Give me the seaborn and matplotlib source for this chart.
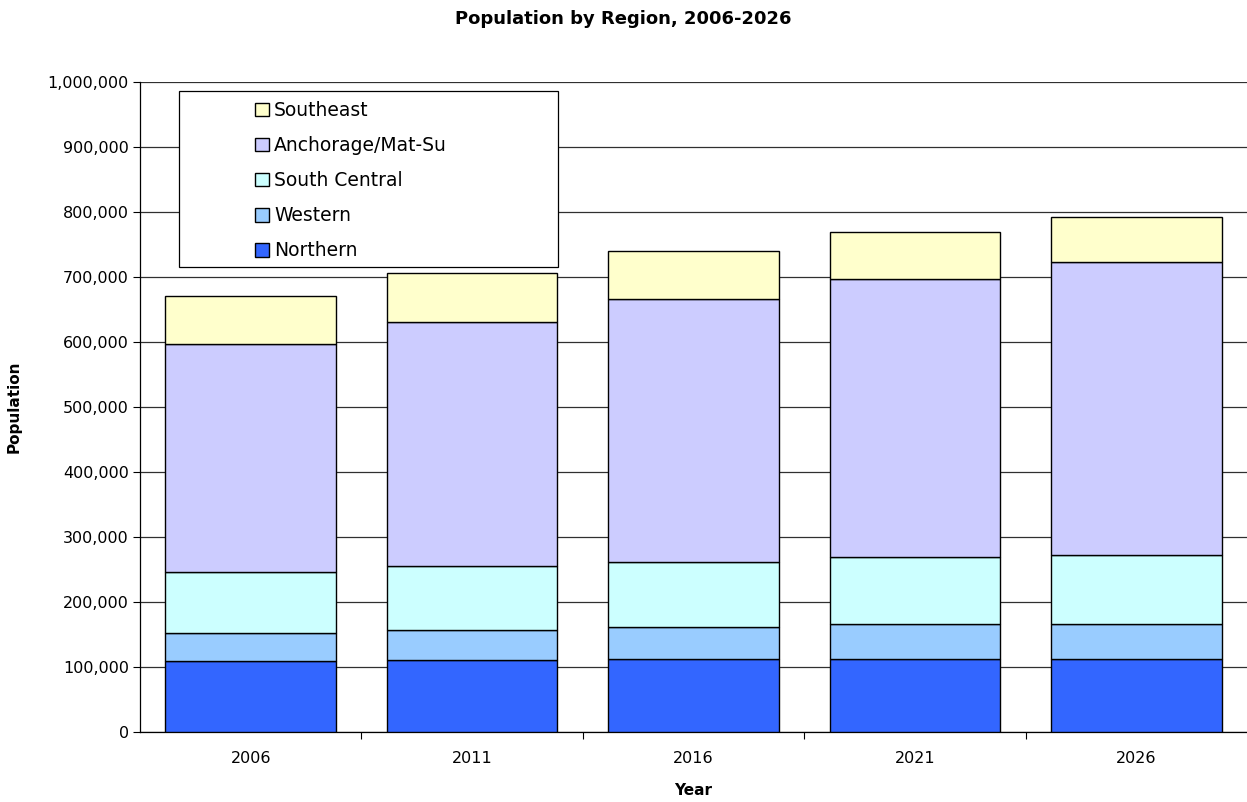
import pandas as pd
import numpy as np
import matplotlib
matplotlib.use("Agg")
import matplotlib.pyplot as plt
import matplotlib.ticker as mticker
from matplotlib.patches import Rectangle
import seaborn as sns

# data (stacked, bottom to top)
years = ["2006", "2011", "2016", "2021", "2026"]
regions = ["Northern", "Western", "South Central", "Anchorage/Mat-Su", "Southeast"]
northern = [108800, 110300, 112900, 112900, 112900]
western = [43000, 46200, 48200, 52800, 53900]
south_central = [95000, 98900, 101000, 103100, 105500]
anchorage = [349700, 375400, 403600, 428100, 450800]
southeast = [74900, 75400, 74900, 72300, 68700]

colors = {"Northern": "#3366FF", "Western": "#99CCFF", "South Central": "#CCFFFF",
          "Anchorage/Mat-Su": "#CCCCFF", "Southeast": "#FFFFCC"}

values = [northern, western, south_central, anchorage, southeast]
rows = []
for reg, vals in zip(regions, values):
    for yr, v in zip(years, vals):
        rows.append({"year": yr, "region": reg, "population": v})
df = pd.DataFrame(rows)

sns.set_style("white")
plt.rcParams["font.family"] = ["DejaVu Sans"]
plt.rcParams["text.color"] = "black"
plt.rcParams["axes.labelcolor"] = "black"
plt.rcParams["xtick.color"] = "black"
plt.rcParams["ytick.color"] = "black"

fig = plt.figure(figsize=(12.47, 8.02), dpi=100)
ax = fig.add_axes([140 / 1247, 70 / 802, 1 - 140 / 1247, 650 / 802])

bottom = np.zeros(len(years))
for reg in regions:
    sub = df[df.region == reg]
    sns.barplot(data=sub, x="year", y="population", order=years, bottom=bottom,
                color=colors[reg], saturation=1, width=0.77, edgecolor="black",
                linewidth=1, label=reg, ax=ax, zorder=3)
    bottom = bottom + sub["population"].to_numpy()

ax.set_xlim(-0.5, 4.5)
ax.set_ylim(0, 1000000)
ax.yaxis.set_major_locator(mticker.MultipleLocator(100000))
ax.yaxis.set_major_formatter(mticker.FuncFormatter(lambda v, p: f"{int(v):,}"))
ax.yaxis.grid(True, color="#303030", linewidth=0.9, zorder=0)
ax.set_axisbelow(True)

ax.set_xticks(range(len(years)))
ax.set_xticklabels(years)
ax.set_xticks([0.5, 1.5, 2.5, 3.5], minor=True)
ax.tick_params(axis="x", which="major", bottom=True, length=0, pad=14, labelsize=11.5)
ax.tick_params(axis="x", which="minor", bottom=True, length=5, width=0.8,
               color="black", direction="out")
ax.tick_params(axis="y", length=5, width=0.8, color="black", direction="out", left=True,
               labelsize=11.5, pad=3)

for side in ["top", "right"]:
    ax.spines[side].set_visible(False)
for side in ["left", "bottom"]:
    ax.spines[side].set_color("black")
    ax.spines[side].set_linewidth(0.9)

ax.set_xlabel("Year", fontsize=11, fontweight="bold", labelpad=12)
ax.set_ylabel("Population", fontsize=11, fontweight="bold")
ax.yaxis.set_label_coords(-118 / 1107, 0.5)
fig.suptitle("Population by Region, 2006-2026", fontsize=13, fontweight="bold",
             x=0.5, y=1 - 19 / 802, va="center")

# legend: frame drawn separately, entries shown top-down
ax.add_patch(Rectangle((39 / 1107, 465 / 650), 379 / 1107, 176 / 650,
                       transform=ax.transAxes, facecolor="white", edgecolor="black",
                       linewidth=0.9, zorder=5))
handles, labels = ax.get_legend_handles_labels()
leg = ax.legend(handles[::-1], labels[::-1], loc="upper left",
                bbox_to_anchor=(115 / 1107, 631 / 650), frameon=False, fontsize=13.5,
                handlelength=0.72, handleheight=0.72, handletextpad=0.3,
                labelspacing=0.86, borderpad=0, borderaxespad=0)
leg.set_zorder(6)

fig.savefig("out.png", dpi=100)
